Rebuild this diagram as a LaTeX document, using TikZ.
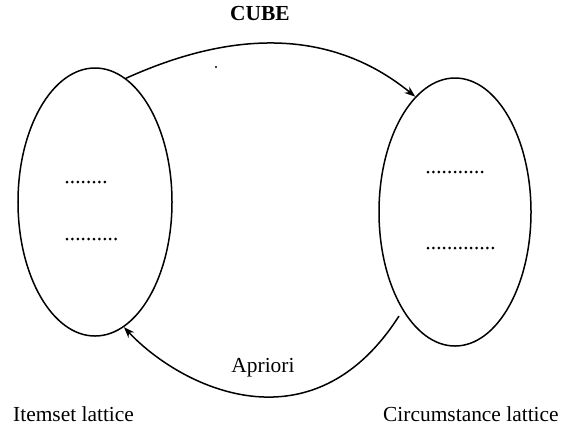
\documentclass[tikz,border=0pt]{standalone}
\usepackage{fontspec}
\setmainfont{Liberation Serif}
\usetikzlibrary{shapes.geometric,arrows.meta}
\begin{document}
\begin{tikzpicture}[x=1bp,y=-1bp,
  lat/.style={draw,ellipse,line width=1.5bp,inner sep=0pt,minimum width=154bp,minimum height=268bp},
  flow/.style={line width=1.5bp,-{Stealth[length=11bp,width=8bp]}},
  lbl/.style={font=\fontsize{21.5}{24}\selectfont,inner sep=0pt},
  dots/.style={line width=3bp,line cap=round,dash pattern=on 0pt off 5.4bp}]
\useasboundingbox (0,0) rectangle (567,430);
\node[lat] (L) at (95,202) {};
\node[lat,minimum width=152bp] (R) at (455,212) {};
\coordinate (s) at (399,316);
% dotted entries
\draw[dots] (67,182) -- (107,182);
\draw[dots] (67,239) -- (117,239);
\draw[dots] (428,172) -- (484,172);
\draw[dots] (428,248) -- (495,248);
% connectors
\draw[flow] (L.76) .. controls (191,49) and (309,10) .. (R.109);
\draw[flow] (s) .. controls (312,452) and (181,388) .. (L.283);
\fill (216,67) circle (1.1bp);
% labels
\node[lbl,font=\fontsize{21.5}{24}\selectfont\bfseries,anchor=base] (cube) at (260,20) {CUBE};
\node[lbl,anchor=base] (apr) at (263,372) {Apriori};
\node[lbl,anchor=base west] (il) at (13,421) {Itemset lattice};
\node[lbl,anchor=base west] (cl) at (383,421) {Circumstance lattice};
\end{tikzpicture}
\end{document}
